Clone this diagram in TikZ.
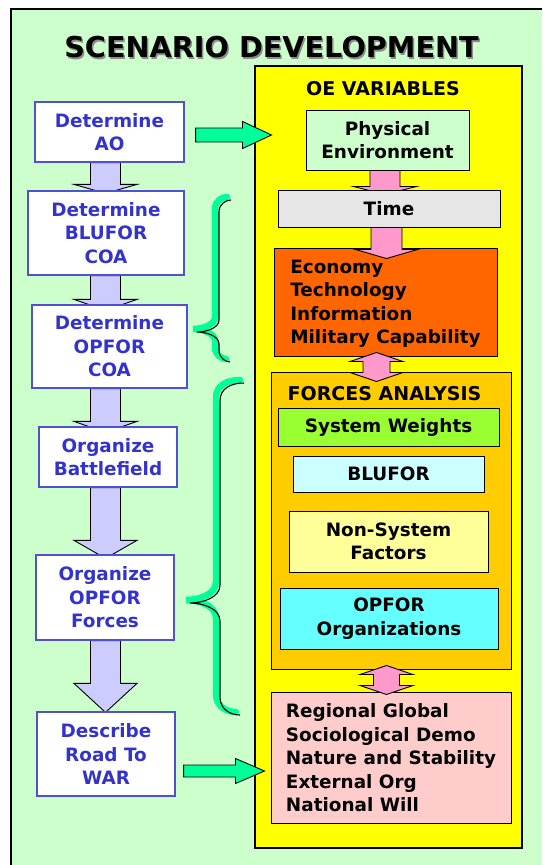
\documentclass[tikz,border=0pt]{standalone}
\usepackage{fontspec}
\setmainfont{DejaVu Sans}
\usetikzlibrary{calc}

\definecolor{bggreen}{HTML}{CCFFCC}
\definecolor{panelyellow}{HTML}{FFFF00}
\definecolor{txtblue}{HTML}{3333CC}
\definecolor{boxblue}{HTML}{5050D0}
\definecolor{lavender}{HTML}{CCCCFF}
\definecolor{mint}{HTML}{00FF99}
\definecolor{pinkarrow}{HTML}{FF99CC}
\definecolor{timegray}{HTML}{E6E6E6}
\definecolor{orangebox}{HTML}{FF6600}
\definecolor{goldbox}{HTML}{FFCC00}
\definecolor{limebox}{HTML}{99FF33}
\definecolor{paleblue}{HTML}{CCFFFF}
\definecolor{paleyellow}{HTML}{FFFF99}
\definecolor{aquabox}{HTML}{66FFFF}
\definecolor{pinkbox}{HTML}{FFCCCC}

\pgfdeclarelayer{back}
\pgfdeclarelayer{mid}
\pgfsetlayers{back,mid,main}

\tikzset{
  boxfont/.style={font=\bfseries\fontsize{18.4}{23.5}\selectfont},
  stepbox/.style={boxfont, draw=boxblue, line width=1.2pt, fill=white,
    text=txtblue, align=center, inner sep=0pt},
  varbox/.style={boxfont, draw=black, line width=1pt, text=black,
    align=center, inner sep=0pt},
  listbox/.style={varbox, align=left, text depth=0pt},
  blockarrow/.style={draw=black, line width=0.9pt, line join=miter},
}

% vertical block arrow: #1 start (top), #2 tip, #3 shaft half width,
% #4 head half width, #5 head length, #6 fill
\newcommand\blockdown[6]{%
  \draw[blockarrow, fill=#6] let \p1=#1, \p2=#2 in
    (\x1-#3pt,\y1) -- (\x1-#3pt,\y2+#5pt) -- (\x1-#4pt,\y2+#5pt) -- (\x1,\y2)
    -- (\x1+#4pt,\y2+#5pt) -- (\x1+#3pt,\y2+#5pt) -- (\x1+#3pt,\y1) -- cycle;}
% double-headed vertical block arrow: #1 top tip, #2 bottom tip
\newcommand\blockboth[6]{%
  \draw[blockarrow, fill=#6] let \p1=#1, \p2=#2 in
    (\x1,\y1) -- (\x1+#4pt,\y1-#5pt) -- (\x1+#3pt,\y1-#5pt)
    -- (\x1+#3pt,\y2+#5pt) -- (\x1+#4pt,\y2+#5pt) -- (\x1,\y2)
    -- (\x1-#4pt,\y2+#5pt) -- (\x1-#3pt,\y2+#5pt)
    -- (\x1-#3pt,\y1-#5pt) -- (\x1-#4pt,\y1-#5pt) -- cycle;}
% horizontal block arrow: #1 start (left), #2 tip
\newcommand\blockright[6]{%
  \draw[blockarrow, fill=#6] let \p1=#1, \p2=#2 in
    (\x1,\y1+#3pt) -- (\x2-#5pt,\y1+#3pt) -- (\x2-#5pt,\y1+#4pt) -- (\x2,\y1)
    -- (\x2-#5pt,\y1-#4pt) -- (\x2-#5pt,\y1-#3pt) -- (\x1,\y1-#3pt) -- cycle;}

% curly brace: top end (#1,#2), spine x #3, point (#4,#5), bottom end (#6,#7), bend #8
\newcommand\bracepath[8]{%
  (#1,#2) .. controls (#3+0.6*#8,#2) and (#3,#2+0.3*#8) .. (#3,#2+#8)
  -- (#3,#5-#8) .. controls (#3,#5-0.3*#8) and (#4+0.7*#8,#5) .. (#4,#5)
  .. controls (#4+0.7*#8,#5) and (#3,#5+0.3*#8) .. (#3,#5+#8)
  -- (#3,#7-#8) .. controls (#3,#7-0.3*#8) and (#3+0.6*#8,#7) .. (#6,#7)}
\newcommand\ribbonbrace[8]{%
  \draw[mint, line width=6.5pt, line cap=round, shift={(-4,-3)}]
    \bracepath{#1}{#2}{#3}{#4}{#5}{#6}{#7}{#8};
  \draw[black, line width=1.1pt]
    \bracepath{#1}{#2}{#3}{#4}{#5}{#6}{#7}{#8};}

\begin{document}
\begin{tikzpicture}[x=1pt, y=-1pt]
\useasboundingbox (0,0) rectangle (542,865);

% backdrop and the OE variables panel
\begin{pgfonlayer}{back}
  \fill[bggreen] (11,9) rectangle (542,865);
  \draw[line width=1.5pt] (11,865) -- (11,9) -- (542,9);
  \node[draw=black, line width=1.4pt, fill=panelyellow, inner sep=0pt,
        minimum width=267, minimum height=782] (oe) at (388.5,457) {};
\end{pgfonlayer}

% title with its drop shadow
\node[font=\bfseries\fontsize{28.7}{34}\selectfont, text=black!45, inner sep=0pt]
  (titleshadow) at (273,49.2) {SCENARIO DEVELOPMENT};
\node[font=\bfseries\fontsize{28.7}{34}\selectfont, inner sep=0pt]
  (title) at (271.5,47.5) {SCENARIO DEVELOPMENT};

% left column of steps
\coordinate (axis) at (105.5,0);
\node[stepbox, minimum width=149, minimum height=60] (b1) at (109.5,132) {Determine\\AO};
\node[stepbox, minimum width=156, minimum height=84] (b2) at (106,233) {Determine\\BLUFOR\\COA};
\node[stepbox, minimum width=155, minimum height=83] (b3) at (109.5,346.5) {Determine\\OPFOR\\COA};
\node[stepbox, minimum width=138, minimum height=60] (b4) at (108,457) {Organize\\Battlefield};
\node[stepbox, minimum width=138, minimum height=85] (b5) at (105,597.5) {Organize\\OPFOR\\Forces};
\node[stepbox, minimum width=138, minimum height=84] (b6) at (106,754) {Describe\\Road To\\WAR};

\begin{pgfonlayer}{mid}
  \blockdown{(b1.south -| axis)}{($(b2.north -| axis)+(0,3)$)}{15}{31.5}{9}{lavender}
  \blockdown{(b2.south -| axis)}{($(b3.north -| axis)+(0,6)$)}{15}{31.5}{11}{lavender}
  \blockdown{(b3.south -| axis)}{($(b4.north -| axis)+(0,6)$)}{15}{31.5}{11}{lavender}
  \blockdown{(b4.south -| axis)}{($(b5.north -| axis)+(0,4)$)}{15}{31.5}{18}{lavender}
  \blockdown{(b5.south -| axis)}{($(b6.north -| axis)+(0,1)$)}{15}{31.5}{29}{lavender}
\end{pgfonlayer}

% OE variables panel contents
\node[font=\bfseries\fontsize{19}{23}\selectfont, inner sep=0pt] (oetitle) at (383,88.5) {OE VARIABLES};
\node[varbox, fill=bggreen, minimum width=163, minimum height=60] (pe) at (387.5,140) {Physical\\Environment};
\node[varbox, fill=timegray, minimum width=222, minimum height=37] (time) at (389,208.5) {Time};
\node[listbox, fill=orangebox, minimum width=223, minimum height=108] (econ) at (385.5,302)
  {Economy\\Technology\\Information\\Military Capability};

\node[varbox, fill=goldbox, minimum width=240, minimum height=297] (forces) at (391,520.5) {};
\node[font=\bfseries\fontsize{19}{23}\selectfont, inner sep=0pt] (fatitle) at (384.5,394) {FORCES ANALYSIS};
\node[varbox, fill=limebox, minimum width=221, minimum height=38] (sysw) at (388.5,427) {System Weights};
\node[varbox, fill=paleblue, minimum width=191, minimum height=36] (blufor) at (388.5,474) {BLUFOR};
\node[varbox, fill=paleyellow, minimum width=199, minimum height=61] (nonsys) at (388.5,541.5) {Non-System\\Factors};
\node[varbox, fill=aquabox, minimum width=218, minimum height=61] (oporg) at (389,618.5) {OPFOR\\Organizations};

\node[listbox, fill=pinkbox, minimum width=240, minimum height=131] (reg) at (391,757.5)
  {Regional Global\\Sociological Demo\\Nature and Stability\\External Org\\National Will};

% pink flow arrows inside the panel
\begin{pgfonlayer}{mid}
  \blockdown{($(pe.south)+(-2.5,0)$)}{($(time.north)+(0,5)$)}{15}{31.5}{8}{pinkarrow}
\end{pgfonlayer}
\blockdown{($(time.south)+(-2.5,0)$)}{($(econ.north)+(0,11)$)}{15.5}{31}{9}{pinkarrow}
\blockboth{($(econ.south)+(-9,-4)$)}{($(forces.north)+(0,10)$)}{13.5}{26.5}{9}{pinkarrow}
\blockboth{($(forces.south)+(-4.5,-4)$)}{($(reg.north)+(0,3)$)}{13}{26.5}{9}{pinkarrow}

% green arrows from the steps into the panel
\blockright{($(b1.east)+(11,3)$)}{($(pe.west)+(-34,-5)$)}{7}{13.5}{29}{mint}
\blockright{($(b6.east)+(8,17)$)}{($(reg.west)+(-6,0)$)}{6}{12.5}{29}{mint}

% braces grouping the steps
\ribbonbrace{231}{200}{219}{197}{332}{230}{362}{12}
\ribbonbrace{244}{383}{220}{190}{603}{240}{715}{18}
\end{tikzpicture}
\end{document}
